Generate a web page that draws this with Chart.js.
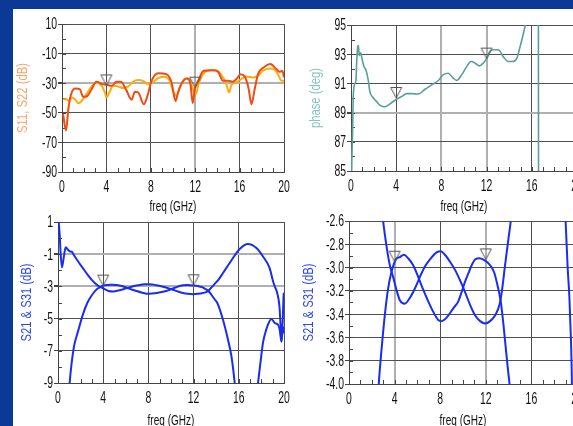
<!DOCTYPE html>
<html>
<head>
<meta charset="utf-8">
<script src="https://cdn.jsdelivr.net/npm/chart.js@4.4.1/dist/chart.umd.min.js"></script>
<style>
html, body { margin: 0; padding: 0; width: 573px; height: 426px; overflow: hidden; background: #fff; }
#topbar { position: absolute; left: 0; top: 0; width: 573px; height: 9px; background: #0b3996; }
#leftbar { position: absolute; left: 0; top: 0; width: 13px; height: 426px; background: #0b3996; }
canvas { position: absolute; }
</style>
</head>
<body>
<div id="topbar"></div>
<div id="leftbar"></div>
<canvas id="c1"></canvas>
<canvas id="c2"></canvas>
<canvas id="c3"></canvas>
<canvas id="c4"></canvas>
<script>
// frequency axis (GHz)
const freqMin = 0, freqMax = 20, freqStep = 4;

// S11 / S22 return loss (dB)
const s11Freq = [0.1,0.36,0.57,0.78,1.17,1.6,1.9,2.2,2.67,3.1,3.6,4.0,4.5,4.9,5.3,5.75,6.27,6.57,6.87,7.38,7.7,8.07,8.67,9.4,9.87,10.22,10.46,10.76,11.27,11.57,11.78,11.96,12.26,12.77,13.6,14.06,14.5,14.96,15.4,15.77,16.07,16.46,16.82,17.06,17.36,17.66,18.26,18.77,19.31,19.6,19.85,20];
const s11 = [-51,-62,-47.6,-38.5,-33.6,-34,-39.2,-39,-34,-29,-30.6,-31,-31.8,-29,-29,-34,-41.2,-35.8,-36.3,-44.2,-38.5,-28.4,-23.2,-23.9,-29.5,-42,-36.3,-30.6,-26.6,-30.6,-43.5,-34,-28.4,-21.6,-21.2,-22.3,-28.4,-28.4,-29,-26.8,-23.9,-25.4,-34,-44.2,-34,-23.9,-18.9,-17.1,-20.5,-22.3,-21.6,-26];
const s22Freq = [0.12,0.4,0.66,0.87,1.17,1.47,1.77,2.2,2.67,3.1,3.57,3.87,4.0,4.26,4.6,5.07,5.5,5.97,6.4,6.87,7.3,7.77,8.16,8.67,9.27,9.7,10.07,10.3,10.6,11.06,11.45,11.75,12.05,12.35,12.77,13.3,13.9,14.45,14.8,15.05,15.26,15.7,16.16,16.6,17.2,17.66,18.1,18.7,19.16,19.55,19.76,20];
const s22 = [-40.8,-40.8,-42,-39.7,-40.8,-43.5,-42,-37.4,-32.2,-29.5,-31.8,-36.3,-39.7,-36.3,-31.8,-32.2,-33.3,-32.2,-29,-27.9,-28.4,-30.6,-29.5,-26.6,-25.7,-28.4,-36.3,-38.5,-32.9,-27.2,-27.2,-32.9,-37.4,-29.5,-23.2,-21.2,-21.2,-25.4,-30.6,-36.3,-31.3,-29.5,-27.2,-25.4,-26.1,-25,-21.6,-20,-20.9,-25.4,-28.4,-28.4];

// phase difference (deg)
const phaseFreq = [0,0.06,0.15,0.2,0.35,0.44,0.5,0.59,0.65,0.74,0.86,0.97,1.15,1.33,1.53,1.68,1.98,2.27,2.57,3.0,3.45,3.98,4.48,4.93,5.37,5.96,6.55,7.14,7.73,8.17,8.61,9.0,9.35,9.8,10.24,10.62,10.97,11.36,11.71,12.0,12.3,12.65,13.04,13.5,13.92,14.3,14.66,14.96,15.25,15.43,15.8,16.2,16.58,16.6,16.7,17.5,20];
const phase = [80,85,88.04,90.1,91,91.2,92.4,93.5,93.6,92.9,93.1,92.7,92.15,91.9,91.2,90.4,90,89.75,89.5,89.4,89.6,89.9,90.1,90.3,90.3,90.27,90.6,90.9,91.2,91.6,91.7,91.4,91.2,91.6,92.15,92.5,92.4,92.2,92.4,92.7,93.2,93.3,93.3,92.8,92.5,92.5,92.7,93.5,94.4,95,96.2,97.5,99,80,78,78,78];

// S21 & S31 coupling (dB)
const s21Freq = [0,0.06,0.15,0.24,0.35,0.5,0.68,0.88,1.03,1.24,1.39,1.77,2.2,2.65,2.99,3.28,3.58,3.87,4.16,4.46,4.9,5.34,5.78,6.22,6.66,7.1,7.68,8.04,8.42,8.86,9.3,9.74,10.18,10.62,11.06,11.5,11.94,12.38,12.82,13.2,13.4,13.69,13.99,14.19,14.6,15.19,16.08,16.81,17.56,18.14,18.73,19.0,19.18,19.33,19.47,19.53,19.62,19.68,19.77,19.89,19.97,20];
const s21 = [1.5,1.0,0.2,-1.03,-1.82,-1.24,-0.57,-0.72,-0.82,-0.86,-1.03,-1.44,-1.86,-2.3,-2.6,-2.81,-2.98,-3.08,-3.19,-3.28,-3.31,-3.26,-3.18,-3.08,-2.99,-2.93,-2.87,-2.86,-2.89,-2.95,-3.02,-3.11,-3.21,-3.32,-3.41,-3.46,-3.48,-3.46,-3.41,-3.32,-3.21,-2.98,-2.75,-2.6,-2.17,-1.55,-0.68,-0.37,-0.62,-1.14,-1.86,-2.6,-3.0,-3.25,-3.62,-3.85,-4.45,-5.25,-6.42,-5.07,-3.5,-3.4];
const s31Freq = [0.8,1.03,1.39,1.77,2.2,2.61,2.84,3.14,3.43,3.72,4.11,4.46,4.81,5.19,5.63,6.07,6.51,6.95,7.39,7.83,8.12,8.56,9.15,9.59,9.88,10.18,10.47,10.76,11.06,11.44,11.94,12.38,12.73,13.02,13.31,13.55,13.78,13.99,14.08,14.6,15.04,15.35,15.64,15.9,16.6,17.4,17.7,18.0,18.14,18.3,18.58,18.88,19.18,19.47,19.62,19.77,19.84,19.93,20];
const s31 = [-11.5,-9,-6.83,-5.8,-4.75,-4.0,-3.72,-3.41,-3.18,-3.04,-2.93,-2.91,-2.89,-2.92,-2.98,-3.08,-3.19,-3.29,-3.38,-3.45,-3.46,-3.43,-3.35,-3.29,-3.21,-3.12,-3.05,-2.98,-2.93,-2.92,-2.94,-2.98,-3.04,-3.15,-3.29,-3.49,-3.72,-3.92,-4.0,-5.07,-6.3,-7.35,-9,-11,-16,-11,-9,-7.24,-6.5,-6.0,-5.38,-5.02,-5.27,-5.38,-5.69,-6.42,-6.0,-5.8,-5.5];

// markers at 4 and 12 GHz
const markerFreq = [4, 12];
const s11Marker = [-31.5, -33];
const phaseMarker = [90.0, 92.7];
const s21Marker = [-2.95, -2.93];

const TICK_FONT = '16px "Liberation Sans", Arial, sans-serif';
const TITLE_FONT = '15px "Liberation Sans", Arial, sans-serif';
Chart.defaults.font.family = '"Liberation Sans", Arial, sans-serif';
Chart.defaults.font.size = 14;
Chart.defaults.color = '#111';

const pts = (xs, ys) => xs.map((x, i) => ({ x: x, y: ys[i] }));

// inverted triangle, apex sits on the data point
const tri = document.createElement('canvas');
tri.width = 18; tri.height = 32;
(function () {
  const g = tri.getContext('2d');
  g.strokeStyle = '#555'; g.lineWidth = 1;
  g.beginPath(); g.moveTo(3.5, 5.5); g.lineTo(14.5, 5.5); g.lineTo(9, 16); g.closePath(); g.stroke();
})();

const minorTicks = {
  id: 'minorTicks',
  beforeDatasetsDraw(chart, args, opts) {
    const { ctx, chartArea: a, scales: { x, y } } = chart;
    ctx.save();
    ctx.strokeStyle = '#444'; ctx.lineWidth = 1;
    ctx.beginPath();
    for (let v = x.min; v <= x.max + 1e-9; v += opts.xStep) {
      const px = Math.round(x.getPixelForValue(v)) + 0.5;
      ctx.moveTo(px, a.bottom); ctx.lineTo(px, a.bottom - 4);
    }
    const n = Math.round((y.max - y.min) / opts.yStep);
    for (let i = 0; i <= n; i++) {
      const py = Math.round(y.getPixelForValue(y.min + i * opts.yStep)) + 0.5;
      ctx.moveTo(a.left, py); ctx.lineTo(a.left + 4, py);
    }
    ctx.stroke();
    ctx.restore();
  }
};

// narrow axis text: tick labels and titles squeezed horizontally like the original
const narrowText = {
  id: 'narrowText',
  afterDraw(chart, args, opts) {
    const { ctx, chartArea: a, scales: { x, y } } = chart;
    const put = (txt, px, py, align, font, color, rot, sx) => {
      ctx.save();
      ctx.translate(px, py);
      if (rot) ctx.rotate(rot);
      ctx.scale(sx, 1);
      ctx.font = font; ctx.fillStyle = color;
      ctx.textAlign = align; ctx.textBaseline = 'middle';
      ctx.fillText(txt, 0, 0);
      ctx.restore();
    };
    x.ticks.forEach(t => put(t.label, x.getPixelForValue(t.value), a.bottom + 16, 'center', TICK_FONT, '#111', 0, 0.65));
    y.ticks.forEach(t => put(t.label, a.left - 5, y.getPixelForValue(t.value) + 1, 'right', TICK_FONT, '#111', 0, 0.65));
    put('freq (GHz)', (a.left + a.right) / 2, a.bottom + opts.xTitle, 'center', TITLE_FONT, '#111', 0, 0.67);
    put(opts.yTitle, opts.yTitleX, (a.top + a.bottom) / 2, 'center', TITLE_FONT, opts.yTitleColor, -Math.PI / 2, 0.75);
  }
};

function line(data, color, width) {
  return { data: data, borderColor: color, borderWidth: width, pointRadius: 0, fill: false, cubicInterpolationMode: 'monotone' };
}
function markers(values) {
  return { data: pts(markerFreq, values), showLine: false, pointStyle: tri, pointRadius: 6 };
}

function plot(id, box, y, datasets, lightX, lightY, yStepMinor) {
  const cv = document.getElementById(id);
  const W = box.r + 12 - box.cl, H = box.b - box.ct + box.xH;
  cv.width = W; cv.height = H;
  cv.style.left = box.cl + 'px'; cv.style.top = box.ct + 'px';
  cv.style.width = W + 'px'; cv.style.height = H + 'px';
  const isLight = (list, c) => c.tick && list.some(v => Math.abs(v - c.tick.value) < 1e-6);
  return new Chart(cv, {
    type: 'line',
    data: { datasets: datasets },
    options: {
      responsive: false,
      animation: false,
      layout: { padding: { top: box.t - box.ct, right: 12, left: 0, bottom: 0 } },
      plugins: {
        legend: { display: false }, tooltip: { enabled: false },
        minorTicks: { xStep: 1, yStep: yStepMinor },
        narrowText: { xTitle: box.xT, yTitle: y.title, yTitleColor: y.titleColor, yTitleX: box.yT - box.cl }
      },
      scales: {
        x: {
          type: 'linear', min: freqMin, max: freqMax,
          ticks: { stepSize: freqStep, display: false },
          grid: { drawTicks: false, color: c => isLight(lightX, c) ? '#b0b0b0' : '#505050', lineWidth: c => isLight(lightX, c) ? 2 : 1 },
          border: { color: '#444' },
          afterFit(s) { s.height = box.xH; }
        },
        y: {
          min: y.min, max: y.max,
          ticks: { stepSize: y.step, display: false, callback: y.fmt },
          grid: { tickLength: 4, tickColor: '#444', color: c => isLight(lightY, c) ? '#b0b0b0' : '#505050', lineWidth: c => isLight(lightY, c) ? 2 : 1 },
          border: { color: '#444' },
          afterFit(s) { s.width = box.l - box.cl; }
        }
      }
    },
    plugins: [minorTicks, narrowText]
  });
}

plot('c1', { cl: 15, ct: 0, l: 62, t: 24, r: 284, b: 172, xH: 44, xT: 35, yT: 23 },
  { min: -90, max: 10, step: 20, title: 'S11, S22 (dB)', titleColor: '#f7a468' },
  [markers(s11Marker), line(pts(s11Freq, s11), '#f24b12', 2), line(pts(s22Freq, s22), '#ffab0a', 2)],
  [12], [-30], 10);

plot('c2', { cl: 300, ct: 0, l: 351, t: 25, r: 577, b: 171, xH: 45, xT: 36, yT: 316 },
  { min: 85, max: 95, step: 2, title: 'phase (deg)', titleColor: '#86c4c4' },
  [markers(phaseMarker), line(pts(phaseFreq, phase), '#5a9e9c', 1.6)],
  [8, 12], [89], 1);

plot('c3', { cl: 15, ct: 195, l: 58, t: 222, r: 284, b: 383, xH: 47, xT: 38, yT: 27 },
  { min: -9, max: 1, step: 2, title: 'S21 & S31 (dB)', titleColor: '#2a45f5' },
  [markers(s21Marker), line(pts(s21Freq, s21), '#1a2cf0', 2), line(pts(s31Freq, s31), '#1a2cf0', 2)],
  [], [-1, -3], 1);

plot('c4', { cl: 295, ct: 195, l: 349, t: 221, r: 577, b: 384, xH: 46, xT: 37, yT: 309 },
  { min: -4, max: -2.6, step: 0.2, title: 'S21 & S31 (dB)', titleColor: '#2a45f5', fmt: v => v.toFixed(1) },
  [markers(s21Marker), line(pts(s21Freq, s21), '#1a2cf0', 2), line(pts(s31Freq, s31), '#1a2cf0', 2)],
  [4, 12], [], 0.1);
</script>
</body>
</html>
